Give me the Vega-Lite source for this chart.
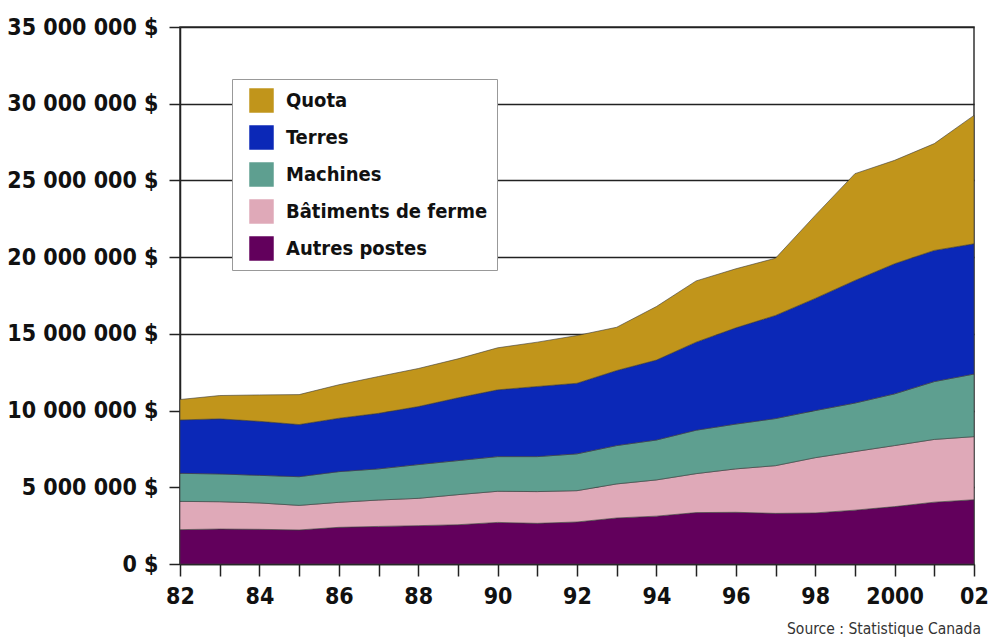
{
  "$schema": "https://vega.github.io/schema/vega-lite/v6.json",
  "autosize": "none",
  "width": 794,
  "height": 537,
  "padding": {"left": 180, "top": 27, "right": 17, "bottom": 73},
  "background": "white",
  "config": {
    "locale": {"number": {"decimal": ",", "thousands": " ", "grouping": [3], "currency": ["", " $"]}},
    "view": {"stroke": "#333", "strokeWidth": 1.5},
    "font": "DejaVu Sans Condensed"
  },
  "title": {
    "text": "Source : Statistique Canada",
    "orient": "bottom",
    "anchor": "end",
    "frame": "group",
    "font": "DejaVu Sans Condensed",
    "fontSize": 15.5,
    "fontWeight": "normal",
    "color": "#333",
    "offset": 14,
    "dx": 7
  },
  "data": {
    "values": [
      {"year": 1982, "poste": "Autres postes", "rang": 1, "valeur": 2240000},
      {"year": 1982, "poste": "Bâtiments de ferme", "rang": 2, "valeur": 1840000},
      {"year": 1982, "poste": "Machines", "rang": 3, "valeur": 1830000},
      {"year": 1982, "poste": "Terres", "rang": 4, "valeur": 3480000},
      {"year": 1982, "poste": "Quota", "rang": 5, "valeur": 1330000},
      {"year": 1983, "poste": "Autres postes", "rang": 1, "valeur": 2280000},
      {"year": 1983, "poste": "Bâtiments de ferme", "rang": 2, "valeur": 1780000},
      {"year": 1983, "poste": "Machines", "rang": 3, "valeur": 1810000},
      {"year": 1983, "poste": "Terres", "rang": 4, "valeur": 3590000},
      {"year": 1983, "poste": "Quota", "rang": 5, "valeur": 1520000},
      {"year": 1984, "poste": "Autres postes", "rang": 1, "valeur": 2260000},
      {"year": 1984, "poste": "Bâtiments de ferme", "rang": 2, "valeur": 1720000},
      {"year": 1984, "poste": "Machines", "rang": 3, "valeur": 1800000},
      {"year": 1984, "poste": "Terres", "rang": 4, "valeur": 3520000},
      {"year": 1984, "poste": "Quota", "rang": 5, "valeur": 1720000},
      {"year": 1985, "poste": "Autres postes", "rang": 1, "valeur": 2220000},
      {"year": 1985, "poste": "Bâtiments de ferme", "rang": 2, "valeur": 1600000},
      {"year": 1985, "poste": "Machines", "rang": 3, "valeur": 1870000},
      {"year": 1985, "poste": "Terres", "rang": 4, "valeur": 3400000},
      {"year": 1985, "poste": "Quota", "rang": 5, "valeur": 1950000},
      {"year": 1986, "poste": "Autres postes", "rang": 1, "valeur": 2390000},
      {"year": 1986, "poste": "Bâtiments de ferme", "rang": 2, "valeur": 1630000},
      {"year": 1986, "poste": "Machines", "rang": 3, "valeur": 2000000},
      {"year": 1986, "poste": "Terres", "rang": 4, "valeur": 3480000},
      {"year": 1986, "poste": "Quota", "rang": 5, "valeur": 2180000},
      {"year": 1987, "poste": "Autres postes", "rang": 1, "valeur": 2450000},
      {"year": 1987, "poste": "Bâtiments de ferme", "rang": 2, "valeur": 1720000},
      {"year": 1987, "poste": "Machines", "rang": 3, "valeur": 2030000},
      {"year": 1987, "poste": "Terres", "rang": 4, "valeur": 3620000},
      {"year": 1987, "poste": "Quota", "rang": 5, "valeur": 2400000},
      {"year": 1988, "poste": "Autres postes", "rang": 1, "valeur": 2500000},
      {"year": 1988, "poste": "Bâtiments de ferme", "rang": 2, "valeur": 1780000},
      {"year": 1988, "poste": "Machines", "rang": 3, "valeur": 2200000},
      {"year": 1988, "poste": "Terres", "rang": 4, "valeur": 3780000},
      {"year": 1988, "poste": "Quota", "rang": 5, "valeur": 2480000},
      {"year": 1989, "poste": "Autres postes", "rang": 1, "valeur": 2560000},
      {"year": 1989, "poste": "Bâtiments de ferme", "rang": 2, "valeur": 1960000},
      {"year": 1989, "poste": "Machines", "rang": 3, "valeur": 2220000},
      {"year": 1989, "poste": "Terres", "rang": 4, "valeur": 4090000},
      {"year": 1989, "poste": "Quota", "rang": 5, "valeur": 2540000},
      {"year": 1990, "poste": "Autres postes", "rang": 1, "valeur": 2710000},
      {"year": 1990, "poste": "Bâtiments de ferme", "rang": 2, "valeur": 2030000},
      {"year": 1990, "poste": "Machines", "rang": 3, "valeur": 2260000},
      {"year": 1990, "poste": "Terres", "rang": 4, "valeur": 4350000},
      {"year": 1990, "poste": "Quota", "rang": 5, "valeur": 2740000},
      {"year": 1991, "poste": "Autres postes", "rang": 1, "valeur": 2650000},
      {"year": 1991, "poste": "Bâtiments de ferme", "rang": 2, "valeur": 2070000},
      {"year": 1991, "poste": "Machines", "rang": 3, "valeur": 2280000},
      {"year": 1991, "poste": "Terres", "rang": 4, "valeur": 4570000},
      {"year": 1991, "poste": "Quota", "rang": 5, "valeur": 2890000},
      {"year": 1992, "poste": "Autres postes", "rang": 1, "valeur": 2740000},
      {"year": 1992, "poste": "Bâtiments de ferme", "rang": 2, "valeur": 2040000},
      {"year": 1992, "poste": "Machines", "rang": 3, "valeur": 2400000},
      {"year": 1992, "poste": "Terres", "rang": 4, "valeur": 4600000},
      {"year": 1992, "poste": "Quota", "rang": 5, "valeur": 3110000},
      {"year": 1993, "poste": "Autres postes", "rang": 1, "valeur": 3000000},
      {"year": 1993, "poste": "Bâtiments de ferme", "rang": 2, "valeur": 2220000},
      {"year": 1993, "poste": "Machines", "rang": 3, "valeur": 2500000},
      {"year": 1993, "poste": "Terres", "rang": 4, "valeur": 4890000},
      {"year": 1993, "poste": "Quota", "rang": 5, "valeur": 2820000},
      {"year": 1994, "poste": "Autres postes", "rang": 1, "valeur": 3120000},
      {"year": 1994, "poste": "Bâtiments de ferme", "rang": 2, "valeur": 2360000},
      {"year": 1994, "poste": "Machines", "rang": 3, "valeur": 2600000},
      {"year": 1994, "poste": "Terres", "rang": 4, "valeur": 5210000},
      {"year": 1994, "poste": "Quota", "rang": 5, "valeur": 3490000},
      {"year": 1995, "poste": "Autres postes", "rang": 1, "valeur": 3350000},
      {"year": 1995, "poste": "Bâtiments de ferme", "rang": 2, "valeur": 2540000},
      {"year": 1995, "poste": "Machines", "rang": 3, "valeur": 2830000},
      {"year": 1995, "poste": "Terres", "rang": 4, "valeur": 5740000},
      {"year": 1995, "poste": "Quota", "rang": 5, "valeur": 3990000},
      {"year": 1996, "poste": "Autres postes", "rang": 1, "valeur": 3370000},
      {"year": 1996, "poste": "Bâtiments de ferme", "rang": 2, "valeur": 2830000},
      {"year": 1996, "poste": "Machines", "rang": 3, "valeur": 2920000},
      {"year": 1996, "poste": "Terres", "rang": 4, "valeur": 6270000},
      {"year": 1996, "poste": "Quota", "rang": 5, "valeur": 3850000},
      {"year": 1997, "poste": "Autres postes", "rang": 1, "valeur": 3300000},
      {"year": 1997, "poste": "Bâtiments de ferme", "rang": 2, "valeur": 3110000},
      {"year": 1997, "poste": "Machines", "rang": 3, "valeur": 3070000},
      {"year": 1997, "poste": "Terres", "rang": 4, "valeur": 6720000},
      {"year": 1997, "poste": "Quota", "rang": 5, "valeur": 3730000},
      {"year": 1998, "poste": "Autres postes", "rang": 1, "valeur": 3330000},
      {"year": 1998, "poste": "Bâtiments de ferme", "rang": 2, "valeur": 3600000},
      {"year": 1998, "poste": "Machines", "rang": 3, "valeur": 3070000},
      {"year": 1998, "poste": "Terres", "rang": 4, "valeur": 7310000},
      {"year": 1998, "poste": "Quota", "rang": 5, "valeur": 5410000},
      {"year": 1999, "poste": "Autres postes", "rang": 1, "valeur": 3510000},
      {"year": 1999, "poste": "Bâtiments de ferme", "rang": 2, "valeur": 3820000},
      {"year": 1999, "poste": "Machines", "rang": 3, "valeur": 3160000},
      {"year": 1999, "poste": "Terres", "rang": 4, "valeur": 7990000},
      {"year": 1999, "poste": "Quota", "rang": 5, "valeur": 6960000},
      {"year": 2000, "poste": "Autres postes", "rang": 1, "valeur": 3740000},
      {"year": 2000, "poste": "Bâtiments de ferme", "rang": 2, "valeur": 3980000},
      {"year": 2000, "poste": "Machines", "rang": 3, "valeur": 3370000},
      {"year": 2000, "poste": "Terres", "rang": 4, "valeur": 8480000},
      {"year": 2000, "poste": "Quota", "rang": 5, "valeur": 6740000},
      {"year": 2001, "poste": "Autres postes", "rang": 1, "valeur": 4030000},
      {"year": 2001, "poste": "Bâtiments de ferme", "rang": 2, "valeur": 4090000},
      {"year": 2001, "poste": "Machines", "rang": 3, "valeur": 3770000},
      {"year": 2001, "poste": "Terres", "rang": 4, "valeur": 8550000},
      {"year": 2001, "poste": "Quota", "rang": 5, "valeur": 6960000},
      {"year": 2002, "poste": "Autres postes", "rang": 1, "valeur": 4190000},
      {"year": 2002, "poste": "Bâtiments de ferme", "rang": 2, "valeur": 4110000},
      {"year": 2002, "poste": "Machines", "rang": 3, "valeur": 4080000},
      {"year": 2002, "poste": "Terres", "rang": 4, "valeur": 8490000},
      {"year": 2002, "poste": "Quota", "rang": 5, "valeur": 8370000}
    ]
  },
  "mark": {"type": "area", "stroke": "#3a3a3a", "strokeWidth": 0.6},
  "encoding": {
    "x": {
      "field": "year",
      "type": "quantitative",
      "scale": {"domain": [1982, 2002], "nice": false, "zero": false},
      "axis": {
        "title": null,
        "values": [1982, 1983, 1984, 1985, 1986, 1987, 1988, 1989, 1990, 1991, 1992, 1993, 1994, 1995, 1996, 1997, 1998, 1999, 2000, 2001, 2002],
        "labelExpr": "datum.value % 2 == 0 ? (datum.value == 2000 ? '2000' : substring(toString(datum.value), 2, 4)) : ''",
        "grid": false,
        "domainColor": "#222",
        "domainWidth": 1.5,
        "tickColor": "#222",
        "tickWidth": 1.5,
        "tickSize": 12,
        "labelFont": "DejaVu Sans Condensed",
        "labelFontWeight": "bold",
        "labelFontSize": 23,
        "labelColor": "#111",
        "labelPadding": 9,
        "labelFlush": false,
        "labelOverlap": false
      }
    },
    "y": {
      "field": "valeur",
      "type": "quantitative",
      "stack": "zero",
      "scale": {"domain": [0, 35000000], "nice": false},
      "axis": {
        "title": null,
        "values": [0, 5000000, 10000000, 15000000, 20000000, 25000000, 30000000, 35000000],
        "format": ",d",
        "labelExpr": "datum.label + ' $'",
        "grid": true,
        "gridColor": "#222",
        "gridWidth": 1.5,
        "domainColor": "#222",
        "domainWidth": 1.5,
        "tickColor": "#222",
        "tickWidth": 1.5,
        "tickSize": 11,
        "labelFont": "DejaVu Sans Condensed",
        "labelFontWeight": "bold",
        "labelFontSize": 23,
        "labelColor": "#111",
        "labelPadding": 11,
        "labelFlush": false,
        "labelOverlap": false
      }
    },
    "color": {
      "field": "poste",
      "type": "nominal",
      "scale": {
        "domain": ["Quota", "Terres", "Machines", "Bâtiments de ferme", "Autres postes"],
        "range": ["#C1951B", "#0B28B7", "#5E9F90", "#DFA9B8", "#62005C"]
      },
      "legend": {
        "title": null,
        "orient": "none",
        "legendX": 52,
        "legendY": 52,
        "fillColor": "white",
        "strokeColor": "#999",
        "padding": 9,
        "symbolType": "square",
        "symbolSize": 600,
        "symbolStrokeWidth": 0,
        "symbolOffset": 8,
        "labelFont": "DejaVu Sans Condensed",
        "labelFontWeight": "bold",
        "labelFontSize": 20,
        "labelColor": "#111",
        "labelOffset": 12,
        "rowPadding": 12,
        "labelLimit": 400
      }
    },
    "order": {"field": "rang", "type": "quantitative"}
  }
}
